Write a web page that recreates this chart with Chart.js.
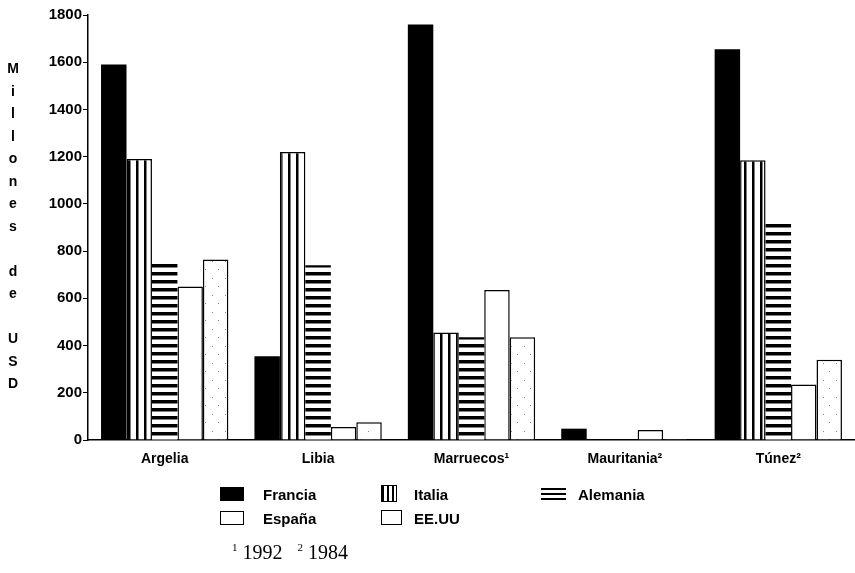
<!DOCTYPE html>
<html>
<head>
<meta charset="utf-8">
<script src="https://cdn.jsdelivr.net/npm/chart.js@4.4.0/dist/chart.umd.min.js"></script>
<style>
body { margin: 0; background: #fff; font-family: "Liberation Sans", Arial, sans-serif; }
#wrap { position: relative; width: 855px; height: 573px; overflow: hidden; }
#chart { position: absolute; left: 0; top: 0; }
#ytitle { position: absolute; left: 4px; top: 57px; width: 18px; text-align: center; font-weight: bold; font-size: 14px; line-height: 22.5px; color: #000; }
.sw { position: absolute; box-sizing: border-box; }
.lt { position: absolute; font-size: 15px; font-weight: bold; color: #000; line-height: 16px; }
#note { position: absolute; left: 232px; top: 541px; font-family: "Liberation Serif", "Times New Roman", serif; font-size: 20px; color: #000; }
#note sup { font-size: 11px; }
</style>
</head>
<body>
<div id="wrap">
  <canvas id="chart" width="855" height="573"></canvas>
  <div id="ytitle">M<br>i<br>l<br>l<br>o<br>n<br>e<br>s<br>&nbsp;<br>d<br>e<br>&nbsp;<br>U<br>S<br>D</div>

  <div class="sw" style="left:220px;top:487px;width:24px;height:14px;background:#000;"></div>
  <div class="lt" style="left:263px;top:487px;">Francia</div>
  <div class="sw" style="left:381px;top:485px;width:16px;height:17px;border:1px solid #000;background:repeating-linear-gradient(90deg,#000 0 2px,#fff 2px 5px);"></div>
  <div class="lt" style="left:414px;top:487px;">Italia</div>
  <div class="sw" style="left:541px;top:488px;width:25px;height:12px;background:repeating-linear-gradient(180deg,#000 0 2px,#fff 2px 5px);"></div>
  <div class="lt" style="left:578px;top:487px;">Alemania</div>

  <div class="sw" style="left:220px;top:511px;width:24px;height:14px;border:1px solid #000;background:#fff;"></div>
  <div class="lt" style="left:263px;top:511px;">España</div>
  <div class="sw" style="left:381px;top:510px;width:21px;height:15px;border:1.5px solid #000;background:#fff;"></div>
  <div class="lt" style="left:414px;top:511px;">EE.UU</div>

  <div id="note"><sup>1</sup> 1992&nbsp;&nbsp;&nbsp;<sup>2</sup> 1984</div>
</div>
<script>
// --- DATA ---
const paises = ["Argelia", "Libia", "Marruecos¹", "Mauritania²", "Túnez²"];
const francia  = [1590, 355, 1760, 48, 1655];
const italia   = [1190, 1220, 455, 0, 1185];
const alemania = [750, 740, 435, 0, 920];
const espana   = [650, 55, 635, 42, 235];
const eeuu     = [765, 75, 435, 4, 340];
const yTicks   = [0, 200, 400, 600, 800, 1000, 1200, 1400, 1600, 1800];

// --- PATTERNS ---
function pattern(w, h, draw) {
    const c = document.createElement("canvas");
    c.width = w; c.height = h;
    const g = c.getContext("2d");
    g.fillStyle = "#fff"; g.fillRect(0, 0, w, h);
    g.fillStyle = "#000";
    draw(g);
    return c.getContext("2d").createPattern(c, "repeat");
}
const vLines = pattern(8, 8, g => g.fillRect(0, 0, 2.5, 8));
const hLines = pattern(8, 8, g => g.fillRect(0, 0, 8, 3.5));
const dots = pattern(13, 17, g => { g.fillStyle = "#888"; g.fillRect(4, 6, 1, 1); g.fillRect(10, 14, 1, 1); });

const font = { family: "'Liberation Sans', Arial, sans-serif", size: 14, weight: "bold" };

new Chart(document.getElementById("chart"), {
    type: "bar",
    data: {
        labels: paises,
        datasets: [
            { label: "Francia", data: francia, backgroundColor: "#000", borderWidth: 0 },
            { label: "Italia", data: italia, backgroundColor: vLines, borderColor: "#000", borderWidth: 1.5 },
            { label: "Alemania", data: alemania, backgroundColor: hLines, borderWidth: 0 },
            { label: "España", data: espana, backgroundColor: "#fff", borderColor: "#000", borderWidth: 1.5 },
            { label: "EE.UU", data: eeuu, backgroundColor: dots, borderColor: "#000", borderWidth: 1.5 }
        ]
    },
    options: {
        responsive: false,
        animation: false,
        categoryPercentage: 0.83,
        barPercentage: 1.0,
        layout: { padding: { top: 15, right: 0, left: 0, bottom: 103 } },
        plugins: { legend: { display: false }, tooltip: { enabled: false } },
        scales: {
            x: {
                grid: { display: false },
                border: { display: true, color: "#000", width: 1.5 },
                ticks: { color: "#000", font: font, padding: 3, maxRotation: 0 },
                afterFit: s => { s.height = 30; }
            },
            y: {
                min: 0, max: 1800,
                afterBuildTicks: s => { s.ticks = yTicks.map(v => ({ value: v })); },
                grid: { drawOnChartArea: false, drawTicks: true, tickLength: 5, color: "#000" },
                border: { display: true, color: "#000", width: 1.5 },
                ticks: { color: "#000", font: { ...font, size: 15 }, padding: 1, callback: v => String(v) },
                afterFit: s => { s.width = 88; }
            }
        }
    }
});
</script>
</body>
</html>
